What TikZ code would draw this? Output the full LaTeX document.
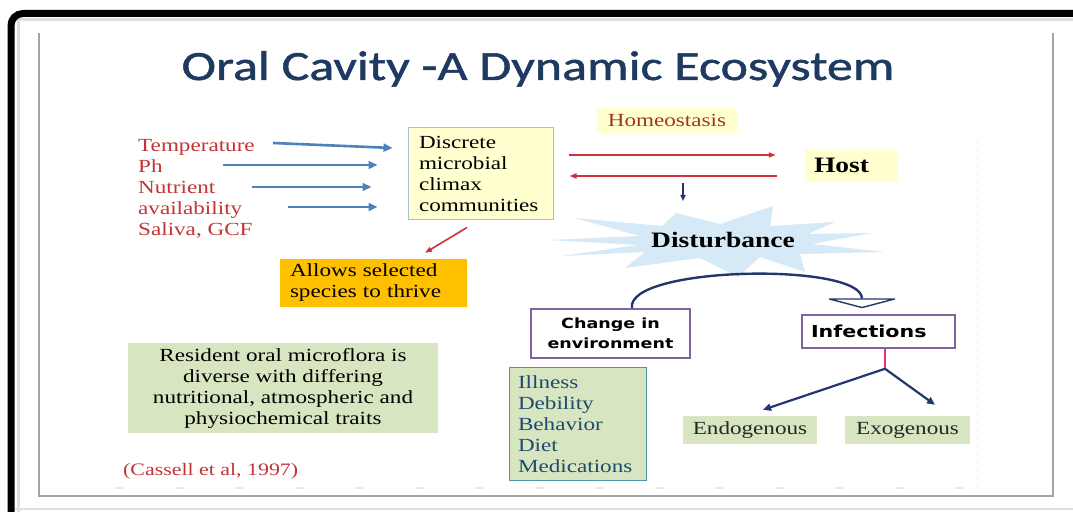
\documentclass[tikz,border=0pt]{standalone}
\usepackage{fontspec}
\setmainfont{Liberation Serif}[FakeStretch=1.25]
\newfontfamily\titlefont{Carlito}[FakeStretch=1.25,FakeBold=1.2]
\newfontfamily\labelsans{DejaVu Sans}[FakeStretch=1.25]
\usetikzlibrary{arrows.meta,calc}

\definecolor{titlenavy}{RGB}{30,58,96}
\definecolor{factred}{RGB}{196,52,52}
\definecolor{homeored}{RGB}{160,52,40}
\definecolor{arrowblue}{RGB}{79,129,189}
\definecolor{arrowred}{RGB}{205,50,60}
\definecolor{navy}{RGB}{35,55,110}
\definecolor{paleyellow}{RGB}{255,255,208}
\definecolor{discborder}{RGB}{170,190,210}
\definecolor{amber}{RGB}{255,192,0}
\definecolor{sage}{RGB}{215,229,192}
\definecolor{tealborder}{RGB}{80,150,170}
\definecolor{tealtext}{RGB}{30,75,110}
\definecolor{lilac}{RGB}{128,100,162}
\definecolor{burst}{RGB}{214,233,246}
\definecolor{pinkline}{RGB}{230,50,110}
\definecolor{framegray}{RGB}{165,165,165}

\tikzset{
  serif/.style={font=\fontsize{18.5bp}{21bp}\selectfont},
  factor/.style={anchor=base west, inner sep=0pt, text=factred, serif},
  panel/.style={rectangle, inner sep=0pt, serif},
  purplebox/.style={rectangle, draw=lilac, line width=1.5bp, fill=white, inner sep=0pt},
  bluearr/.style={arrowblue, line width=2.6bp, -{Triangle[length=9bp,width=8bp]}},
  redarr/.style={arrowred, line width=1.6bp, -{Triangle[length=7bp,width=5bp]}},
  navyarr/.style={navy, line width=2.2bp, -{Triangle[length=8bp,width=7bp]}},
}

\begin{document}
\begin{tikzpicture}[x=1bp,y=-1bp]
\useasboundingbox (0,0) rectangle (1073,512);
\begin{scope}
\clip (0,0) rectangle (1073,512);
\fill[white] (0,0) rectangle (1073,512);

% slide frame
\draw[gray!25, line width=3bp] (18,530) -- (18,20) -- (1090,20);
\draw[black, line width=7bp, rounded corners=12bp] (11,530) -- (11,13.5) -- (1090,13.5);
\draw[gray!25, line width=1.5bp] (15,509) -- (1073,509);
\draw[framegray, line width=1.4bp] (39,33) -- (39,496) -- (1053,496) -- (1053,33);
\draw[gray!18, line width=1.2bp, dash pattern=on 8bp off 52bp] (115,488) -- (980,488);
\draw[gray!15, line width=1bp, dash pattern=on 3bp off 5bp] (977,140) -- (977,488);

% title
\node[anchor=base, inner sep=0pt, text=titlenavy,
      font=\titlefont\fontsize{41.6bp}{48bp}\selectfont] (title) at (538,80)
      {Oral Cavity -A Dynamic Ecosystem};

% environmental factors
\node[factor] (tTemp)  at (138,152) {Temperature};
\node[factor] (tPh)    at (138,173) {Ph};
\node[factor] (tNut)   at (138,194) {Nutrient};
\node[factor] (tAvail) at (138,215) {availability};
\node[factor] (tSal)   at (138,236) {Saliva, GCF};

% microbial communities
\node[panel, fill=paleyellow, draw=discborder, line width=1bp,
      minimum width=145bp, minimum height=92bp,
      text width=123bp, inner xsep=11bp, align=left] (disc) at (480.5,174)
      {Discrete\\microbial\\climax\\communities};

\draw[bluearr] ($(tTemp.base west)+(135,-9)$)  -- ($(disc.west |- tTemp.base)+(-15,-4)$);
\draw[bluearr] ($(tPh.base west)+(85,-8)$)     -- ($(disc.west |- tPh.base)+(-30,-8)$);
\draw[bluearr] ($(tNut.base west)+(114,-7)$)   -- ($(disc.west |- tNut.base)+(-36,-7)$);
\draw[bluearr] ($(tAvail.base west)+(150,-8)$) -- ($(disc.west |- tAvail.base)+(-30,-8)$);

\node[panel, fill=amber, minimum width=187bp, minimum height=48bp,
      text width=167bp, inner xsep=10bp, align=left] (allow) at (373.5,283)
      {Allows selected\\species to thrive};
\draw[redarr] ($(disc.south)+(-13.5,7)$) -- ($(allow.north)+(51.5,-6)$);

% host relation
\node[panel, fill=paleyellow, text=homeored, minimum width=140bp, minimum height=25bp]
      (homeo) at (667,120.5) {Homeostasis};
\node[panel, fill=paleyellow, minimum width=93bp, minimum height=33bp,
      text width=75bp, inner xsep=9bp, align=left,
      font=\fontsize{22bp}{24bp}\selectfont\bfseries] (host) at (851.5,165.5) {Host};
\draw[redarr, shorten <=15bp, shorten >=29bp] (disc.east |- 0,155) -- (host.west |- 0,155);
\draw[redarr, shorten <=28bp, shorten >=16bp] (host.west |- 0,176) -- (disc.east |- 0,176);

% disturbance burst
\fill[burst] (550,240) -- (640,236) -- (575,218) -- (662,226) -- (676,213)
  -- (720,224) -- (773,206) -- (770,226) -- (835,222) -- (808,234)
  -- (872,233) -- (812,244) -- (884,252) -- (800,254) -- (805,272)
  -- (760,257) -- (738,277) -- (700,258) -- (625,268) -- (645,252)
  -- (562,256) -- (638,245) -- cycle;
\node[inner sep=0pt, font=\fontsize{22bp}{24bp}\selectfont\bfseries] (dist) at (723,240) {Disturbance};
\coordinate (dropA) at (683,183);
\coordinate (dropB) at (683,201);
\draw[navy, line width=1.6bp, -{Triangle[length=6bp,width=5bp]}] (dropA) -- (dropB);

% outcomes
\node[purplebox, minimum width=159bp, minimum height=49bp, align=center,
      font=\labelsans\fontsize{14bp}{20bp}\selectfont\bfseries] (chg) at (610.5,333.5)
      {Change in\\environment};
\node[purplebox, minimum width=153bp, minimum height=33bp,
      text width=135bp, inner xsep=9bp, align=left,
      font=\labelsans\fontsize{16.5bp}{20bp}\selectfont\bfseries] (inf) at (878.5,331.5)
      {Infections};

\draw[navy, line width=2.4bp,
      -{Triangle[round, length=10bp, width=76bp, fill=white, line width=1.4bp]}]
  ($(chg.north)+(21.5,0)$) .. controls (625,266) and (862,262) .. ($(inf.north)+(-16.5,-6)$);

\node[panel, fill=sage, draw=tealborder, line width=1bp, text=tealtext,
      minimum width=137bp, minimum height=112bp,
      text width=119bp, inner xsep=9bp, align=left] (ill) at (577.5,424)
      {Illness\\Debility\\Behavior\\Diet\\Medications};

\node[panel, fill=sage, text=black!85, minimum width=134bp, minimum height=28bp] (endo) at (750,430) {Endogenous};
\node[panel, fill=sage, text=black!85, minimum width=125bp, minimum height=28bp] (exo) at (907.5,430) {Exogenous};

\coordinate (fork) at ($(inf.south)+(6.5,20)$);
\draw[pinkline, line width=2bp] ($(inf.south)+(6.5,0)$) -- (fork);
\draw[navyarr] (fork) -- ($(endo.north)+(13,-6)$);
\draw[navyarr] (fork) -- ($(exo.north)+(27.5,-11)$);

% notes
\node[panel, fill=sage, minimum width=310bp, minimum height=90bp, align=center] (res) at (283,388)
      {Resident oral microflora is\\diverse with differing\\nutritional, atmospheric and\\physiochemical traits};
\node[anchor=base west, inner sep=0pt, text=factred,
      font=\fontsize{17.5bp}{20bp}\selectfont] (cite) at (123,475) {(Cassell et al, 1997)};
\end{scope}
\end{tikzpicture}
\end{document}
